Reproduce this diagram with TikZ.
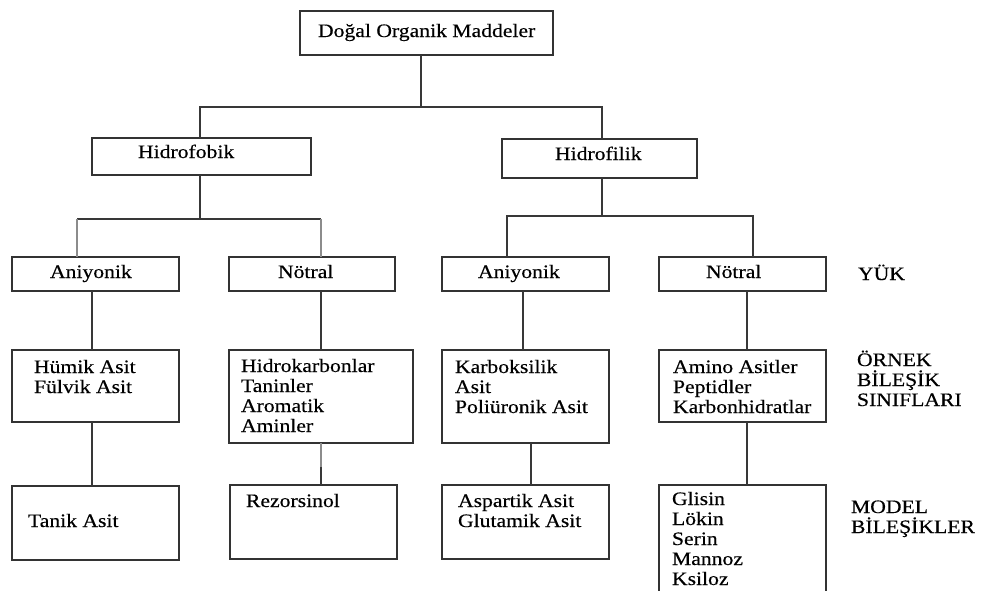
\documentclass[tikz,border=0pt]{standalone}
\usepackage{fontspec}
\setmainfont{Liberation Serif}[FakeStretch=1.14,FakeBold=0.4]
\begin{document}
\begin{tikzpicture}[x=1pt,y=-1pt,
  box/.style={draw=black!80,line width=1.4pt,rectangle,inner sep=0pt,outer sep=0pt,anchor=north west},
  lbl/.style={anchor=base west,inner sep=0pt,outer sep=0pt,align=left,font=\fontsize{19}{20}\selectfont},
  conn/.style={draw=black!78,line width=1.4pt},
  gconn/.style={draw=black!45,line width=1.4pt}]
\clip (0,0) rectangle (981,590);
\fill[white] (0,0) rectangle (981,590);
% boxes
\node[box,minimum width=253pt,minimum height=44pt] (top) at (300,11) {};
\node[box,minimum width=219pt,minimum height=37pt] (hfob) at (92,138) {};
\node[box,minimum width=195pt,minimum height=39pt] (hfil) at (502,139) {};
\node[box,minimum width=167pt,minimum height=34pt] (a1) at (12,257) {};
\node[box,minimum width=166pt,minimum height=34pt] (n1) at (229,257) {};
\node[box,minimum width=167pt,minimum height=34pt] (a2) at (442,257) {};
\node[box,minimum width=167pt,minimum height=34pt] (n2) at (659,257) {};
\node[box,minimum width=167pt,minimum height=72pt] (e1) at (12,350) {};
\node[box,minimum width=184pt,minimum height=93pt] (e2) at (229,350) {};
\node[box,minimum width=167pt,minimum height=93pt] (e3) at (442,350) {};
\node[box,minimum width=167pt,minimum height=72pt] (e4) at (659,350) {};
\node[box,minimum width=167pt,minimum height=74pt] (m1) at (12,486) {};
\node[box,minimum width=167pt,minimum height=74pt] (m2) at (230,485) {};
\node[box,minimum width=167pt,minimum height=74pt] (m3) at (442,485) {};
\node[box,minimum width=167pt,minimum height=130pt] (m4) at (659,485) {};
% texts (anchor = baseline of last line)
\node[lbl] (tTop) at (318,37) {Doğal Organik Maddeler};
\node[lbl] (tHfob) at (138,158) {Hidrofobik};
\node[lbl] (tHfil) at (555,160) {Hidrofilik};
\node[lbl] (tA1) at (50,278) {Aniyonik};
\node[lbl] (tN1) at (278,278) {Nötral};
\node[lbl] (tA2) at (478,278) {Aniyonik};
\node[lbl] (tN2) at (706,278) {Nötral};
\node[lbl] (tYuk) at (858,280) {YÜK};
\node[lbl] (tE1) at (34,393) {Hümik Asit\\Fülvik Asit};
\node[lbl] (tE2) at (241,432) {Hidrokarbonlar\\Taninler\\Aromatik\\Aminler};
\node[lbl] (tE3) at (455,413) {Karboksilik\\Asit\\Poliüronik Asit};
\node[lbl] (tE4) at (673,413) {Amino Asitler\\Peptidler\\Karbonhidratlar};
\node[lbl] (tOrnek) at (857,406) {ÖRNEK\\BİLEŞİK\\SINIFLARI};
\node[lbl] (tM1) at (28,527) {Tanik Asit};
\node[lbl] (tM2) at (246,507) {Rezorsinol};
\node[lbl] (tM3) at (458,527) {Aspartik Asit\\Glutamik Asit};
\node[lbl] (tM4) at (672,585) {Glisin\\Lökin\\Serin\\Mannoz\\Ksiloz};
\node[lbl] (tModel) at (851,533) {MODEL\\BİLEŞİKLER};
% connectors
\coordinate (j1) at (421,107);
\coordinate (j2) at (200,219);
\coordinate (j3) at (602,216);
\draw[conn] (top.south -| j1) -- (j1);
\draw[conn] (hfob.north -| j2) |- (j1) -| (hfil.north -| j3);
\draw[conn] (hfob.south -| j2) -- (j2);
\draw[conn] (77,219) -- (321,219);
\draw[gconn] (77,219) -- (a1.north -| 77,0);
\draw[gconn] (321,219) -- (n1.north -| 321,0);
\draw[conn] (hfil.south -| j3) -- (j3);
\draw[conn] (a2.north -| 507,0) |- (j3) -| (n2.north -| 753,0);
\draw[conn] (a1.south -| 92,0) -- (e1.north -| 92,0);
\draw[conn] (n1.south -| 321,0) -- (e2.north -| 321,0);
\draw[conn] (a2.south -| 523,0) -- (e3.north -| 523,0);
\draw[conn] (n2.south -| 747,0) -- (e4.north -| 747,0);
\draw[conn] (e1.south -| 92,0) -- (m1.north -| 92,0);
\draw[gconn] (e2.south -| 321,0) -- (321,467);
\draw[conn] (321,467) -- (m2.north -| 321,0);
\draw[conn] (e3.south -| 531,0) -- (m3.north -| 531,0);
\draw[conn] (e4.south -| 747,0) -- (m4.north -| 747,0);
\end{tikzpicture}
\end{document}
